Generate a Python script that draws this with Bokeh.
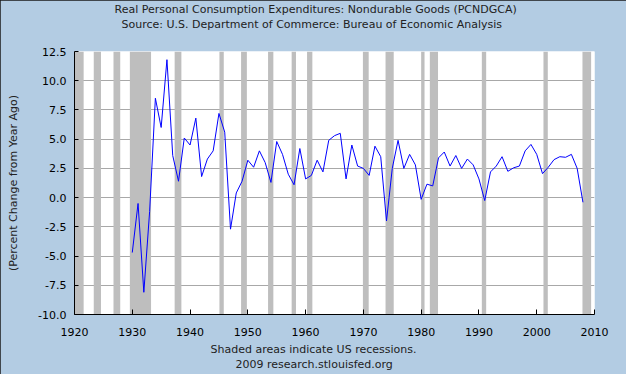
from bokeh.plotting import figure
from bokeh.models import Range1d, FixedTicker, NumeralTickFormatter, BoxAnnotation, Title
from bokeh.embed import file_html
from bokeh.resources import INLINE

# ---- data ----
years = list(range(1930, 2009))
values = [
    -4.7, -0.5, -8.1, -1.2, 8.5, 6.0, 11.8, 3.6, 1.4, 5.1,      # 1930-1939
    4.5, 6.8, 1.8, 3.3, 4.0, 7.2, 5.6, -2.7, 0.4, 1.4,          # 1940-1949
    3.2, 2.6, 4.0, 3.0, 1.3, 4.8, 3.7, 2.0, 1.1, 4.2,           # 1950-1959
    1.6, 1.9, 3.2, 2.2, 4.9, 5.3, 5.5, 1.6, 4.5, 2.7,           # 1960-1969
    2.5, 1.9, 4.4, 3.5, -2.0, 2.5, 4.9, 2.5, 3.7, 2.8,          # 1970-1979
    -0.15, 1.15, 1.0, 3.4, 3.9, 2.7, 3.6, 2.5, 3.3, 2.8,        # 1980-1989
    1.6, -0.25, 2.2, 2.7, 3.5, 2.25, 2.55, 2.7, 4.0, 4.55,      # 1990-1999
    3.7, 2.05, 2.6, 3.25, 3.5, 3.45, 3.7, 2.5, -0.4,            # 2000-2008
]

# NBER recessions: (year, month) of peak and trough
rec_peaks = [(1920, 1), (1923, 5), (1926, 10), (1929, 8), (1937, 5), (1945, 2),
             (1948, 11), (1953, 7), (1957, 8), (1960, 4), (1969, 12), (1973, 11),
             (1980, 1), (1981, 7), (1990, 7), (2001, 3), (2007, 12)]
rec_troughs = [(1921, 7), (1924, 7), (1927, 11), (1933, 3), (1938, 6), (1945, 10),
               (1949, 10), (1954, 5), (1958, 4), (1961, 2), (1970, 11), (1975, 3),
               (1980, 7), (1982, 11), (1991, 3), (2001, 11), (2009, 5)]

x_ticks = [1920, 1930, 1940, 1950, 1960, 1970, 1980, 1990, 2000, 2010]
y_ticks = [-10.0, -7.5, -5.0, -2.5, 0.0, 2.5, 5.0, 7.5, 10.0, 12.5]

title1 = "Real Personal Consumption Expenditures: Nondurable Goods (PCNDGCA)"
title2 = "Source: U.S. Department of Commerce: Bureau of Economic Analysis"
note1 = "Shaded areas indicate US recessions."
note2 = "2009 research.stlouisfed.org"
y_label = "(Percent Change from Year Ago)"

FONT = "DejaVu Sans"
BG = "#B3CCE3"
W, H = 626, 374
ML, MR, MT, MB = 74, 32, 51, 60

p = figure(width=W, height=H, output_backend="svg", toolbar_location=None,
           x_range=Range1d(x_ticks[0], x_ticks[-1]), y_range=Range1d(y_ticks[0], y_ticks[-1]),
           min_border_left=ML, min_border_right=MR, min_border_top=MT, min_border_bottom=MB)
p.border_fill_color = BG
p.background_fill_color = "white"
p.outline_line_color = None
p.styles = {"outline": "1px solid #1a1a1a", "outline-offset": "-1px"}

# grid
p.xgrid.grid_line_color = None
p.ygrid.ticker = FixedTicker(ticks=y_ticks)
p.ygrid.grid_line_color = "#A8A8A8"
p.ygrid.grid_line_width = 1

# recession shading
for (py, pm), (ty, tm) in zip(rec_peaks, rec_troughs):
    p.add_layout(BoxAnnotation(left=py + (pm - 1) / 12.0, right=ty + tm / 12.0,
                               fill_color="#BEBEBE", fill_alpha=1.0, line_color=None,
                               level="underlay"))

p.line(years, values, line_color="#0000FF", line_width=1)

# axes
p.xaxis.ticker = FixedTicker(ticks=x_ticks)
p.yaxis.ticker = FixedTicker(ticks=y_ticks)
p.yaxis.formatter = NumeralTickFormatter(format="0.0")
for ax in (p.xaxis[0], p.yaxis[0]):
    ax.axis_line_color = "black"
    ax.axis_line_width = 1
    ax.major_tick_line_color = "black"
    ax.major_tick_out = 0
    ax.minor_tick_line_color = None
    ax.major_label_text_font = FONT
    ax.major_label_text_font_size = "11px"
    ax.major_label_text_color = "black"
p.xaxis.major_tick_in = 5
p.yaxis.major_tick_in = 4
p.xaxis.major_label_standoff = 13
p.yaxis.major_label_standoff = 8
p.yaxis.axis_label = y_label
p.yaxis.axis_label_text_font = FONT
p.yaxis.axis_label_text_font_size = "11px"
p.yaxis.axis_label_text_font_style = "normal"
p.yaxis.axis_label_text_color = "#222222"
p.yaxis.axis_label_standoff = 15

def mk_title(txt, offset, standoff, valign="bottom"):
    return Title(text=txt, align="left", offset=offset, standoff=standoff,
                 vertical_align=valign, text_font=FONT, text_font_size="11px",
                 text_font_style="normal", text_color="#222222")

# above: stacked outward from the frame
p.add_layout(mk_title(" ", 0, 6), "above")          # spacer
p.add_layout(mk_title(title2, 47, 0), "above")
p.add_layout(mk_title(title1, 40, 0), "above")
# below: stacked outward from the frame
p.add_layout(mk_title(note1, 136, 4), "below")
p.add_layout(mk_title(note2, 161, 0, "top"), "below")

open("out.html", "w").write(file_html(p, INLINE))
